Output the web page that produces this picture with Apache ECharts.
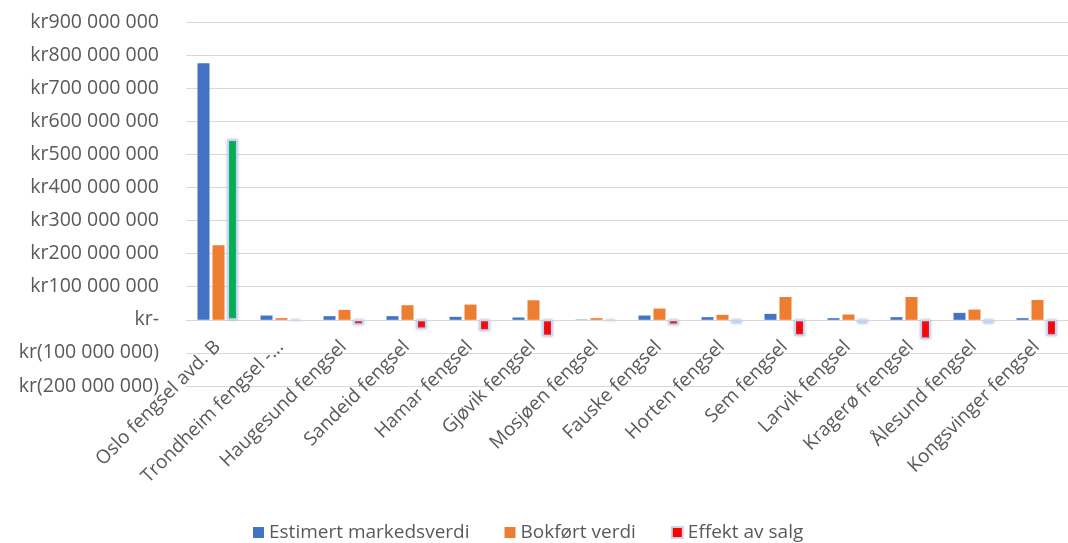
<!DOCTYPE html>
<html>
<head>
<meta charset="utf-8">
<script src="https://cdn.jsdelivr.net/npm/echarts@6/dist/echarts.min.js"></script>
<style>
    html, body { margin: 0; padding: 0; background: #fff; }
    #main { width: 1068px; height: 543px; }
</style>
</head>
<body>
<div id="main"></div>
<script>
var categories = ['Oslo fengsel avd. B', 'Trondheim fengsel -...', 'Haugesund fengsel', 'Sandeid fengsel',
    'Hamar fengsel', 'Gjøvik fengsel', 'Mosjøen fengsel', 'Fauske fengsel', 'Horten fengsel',
    'Sem fengsel', 'Larvik fengsel', 'Kragerø frengsel', 'Ålesund fengsel', 'Kongsvinger fengsel'];
var markedsverdi = [775000000, 13000000, 11000000, 11000000, 9000000, 7000000, 1000000, 13000000, 8000000, 18000000, 5000000, 8000000, 21000000, 5000000];
var bokfort = [225000000, 5000000, 30000000, 44000000, 46000000, 59000000, 5000000, 34000000, 15000000, 69000000, 16000000, 69000000, 31000000, 60000000];
var effekt = [545000000, -3000000, -15000000, -28000000, -33000000, -50000000, -3000000, -16000000, -10000000, -48000000, -10000000, -58000000, -10000000, -48000000];
var yTicks = [-200000000, 900000000, 100000000];

var textColor = '#595959';
var font = 'Open Sans';

function krFormat(v)
{
    if (v === 0) return 'kr-';
    var s = String(Math.abs(v)).replace(/\B(?=(\d{3})+(?!\d))/g, ' ');
    return v < 0 ? 'kr(' + s + ')' : 'kr' + s;
}

// positive effect is green, small ones are only the pale glow, the rest red
var effektData = effekt.map(function (v) {
    var c = '#ff0000';
    if (v > 0) c = '#00b050';
    else if (v > -12000000) c = '#dfe6f2';
    return {value: v, itemStyle: {color: c}};
});

var chart = echarts.init(document.getElementById('main'));
var option = {
    animation: false,
    grid: {left: 186, right: -12, top: 22, bottom: 157, containLabel: false},
    legend: {
        top: 518,
        left: 248,
        itemWidth: 11,
        itemHeight: 11,
        itemGap: 35,
        icon: 'rect',
        textStyle: {color: textColor, fontSize: 19, fontFamily: font},
        data: ['Estimert markedsverdi', 'Bokført verdi', 'Effekt av salg']
    },
    xAxis: {
        type: 'category',
        data: categories,
        axisTick: {show: false},
        axisLine: {onZero: true, lineStyle: {color: '#d9d9d9', width: 1}},
        axisLabel: {
            interval: 0,
            rotate: 45,
            margin: -42,
            color: textColor,
            fontSize: 19,
            fontFamily: font
        }
    },
    yAxis: {
        type: 'value',
        min: yTicks[0],
        max: yTicks[1],
        interval: yTicks[2],
        axisLine: {show: false},
        axisTick: {show: false},
        splitLine: {lineStyle: {color: '#d9d9d9', width: 1}},
        axisLabel: {
            margin: 27,
            color: textColor,
            fontSize: 19.5,
            fontFamily: font,
            formatter: krFormat
        }
    },
    series: [
        {
            name: 'Estimert markedsverdi',
            type: 'bar',
            barWidth: 12,
            barGap: '25%',
            itemStyle: {color: '#4472c4'},
            data: markedsverdi
        },
        {
            name: 'Bokført verdi',
            type: 'bar',
            barWidth: 12,
            itemStyle: {color: '#ed7d31'},
            data: bokfort
        },
        {
            name: 'Effekt av salg',
            type: 'bar',
            barWidth: 10,
            itemStyle: {
                color: '#ff0000',
                borderColor: '#c8d5ec',
                borderWidth: 1.5,
                shadowBlur: 3,
                shadowColor: 'rgba(120,150,210,0.6)'
            },
            data: effektData
        }
    ]
};
chart.setOption(option);
</script>
</body>
</html>
